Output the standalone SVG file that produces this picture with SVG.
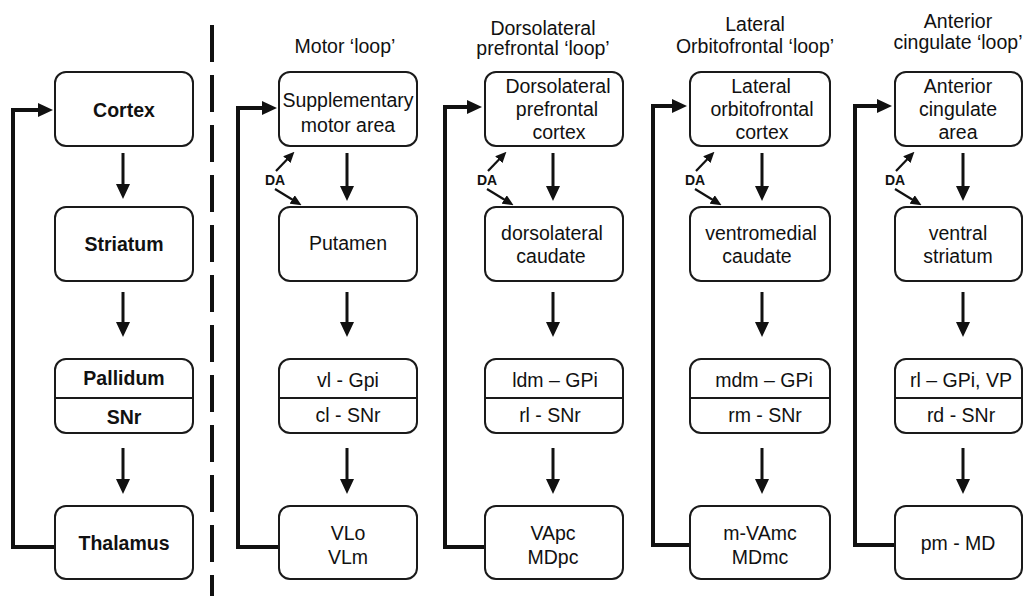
<svg xmlns="http://www.w3.org/2000/svg" width="1024" height="596" viewBox="0 0 1024 596">
<style>
.bx{fill:#fff;stroke:#1a1a1a;stroke-width:2}
.dv{stroke:#1a1a1a;stroke-width:2}
.t{font-family:"Liberation Sans",Arial,sans-serif;font-size:19.5px;text-anchor:middle;fill:#111}
.b{font-weight:bold}
.da{font-family:"Liberation Sans",Arial,sans-serif;font-size:14px;font-weight:bold;text-anchor:middle;fill:#111}
.ar{stroke:#111;stroke-width:3;fill:none;marker-end:url(#ah)}
.fba{stroke:#111;stroke-width:4;fill:none;marker-end:url(#ah)}
.dl{stroke:#111;stroke-width:2.2;fill:none;marker-end:url(#sh)}
</style>
<defs>
<marker id="ah" markerUnits="userSpaceOnUse" markerWidth="15" markerHeight="14" refX="2" refY="7" orient="auto" viewBox="0 0 15 14">
<path d="M0,0 L15,7 L0,14 z" fill="#111"/>
</marker>
<marker id="sh" markerUnits="userSpaceOnUse" markerWidth="11" markerHeight="10" refX="1" refY="5" orient="auto" viewBox="0 0 11 10">
<path d="M0,0 L11,5 L0,10 z" fill="#111"/>
</marker>
</defs>
<rect width="1024" height="596" fill="#fff"/>

<line x1="212" y1="25" x2="212" y2="596" stroke="#111" stroke-width="4" stroke-dasharray="37 13"/>

<g id="titles">
<text class="t" x="345" y="53">Motor &#8216;loop&#8217;</text>
<text class="t" x="543" y="35">Dorsolateral</text>
<text class="t" x="543" y="55">prefrontal &#8216;loop&#8217;</text>
<text class="t" x="755" y="31">Lateral</text>
<text class="t" x="755" y="53">Orbitofrontal &#8216;loop&#8217;</text>
<text class="t" x="958" y="28">Anterior</text>
<text class="t" x="958" y="49">cingulate &#8216;loop&#8217;</text>
</g>

<g id="connectors">
<line class="ar" x1="123" y1="153" x2="123" y2="186"/>
<line class="ar" x1="123" y1="292" x2="123" y2="324"/>
<line class="ar" x1="123" y1="448" x2="123" y2="481"/>
<line class="ar" x1="347" y1="153" x2="347" y2="188"/>
<line class="ar" x1="347" y1="292" x2="347" y2="324"/>
<line class="ar" x1="347" y1="448" x2="347" y2="481"/>
<line class="ar" x1="553" y1="153" x2="553" y2="188"/>
<line class="ar" x1="553" y1="292" x2="553" y2="324"/>
<line class="ar" x1="553" y1="448" x2="553" y2="481"/>
<line class="ar" x1="762" y1="153" x2="762" y2="188"/>
<line class="ar" x1="762" y1="292" x2="762" y2="324"/>
<line class="ar" x1="762" y1="448" x2="762" y2="481"/>
<line class="ar" x1="963" y1="153" x2="963" y2="188"/>
<line class="ar" x1="963" y1="292" x2="963" y2="324"/>
<line class="ar" x1="963" y1="448" x2="963" y2="481"/>
<polyline class="fba" points="55,547 13,547 13,110 40,110"/>
<polyline class="fba" points="279,547 238,547 238,108 264,108"/>
<polyline class="fba" points="485,547 445,547 445,107 469,107"/>
<polyline class="fba" points="690,545 653,545 653,106 674,106"/>
<polyline class="fba" points="895,545 855,545 855,106 879,106"/>
<g transform="translate(275,0)">
<line class="dl" x1="1" y1="171" x2="12.5" y2="159"/>
<line class="dl" x1="0" y1="189" x2="18" y2="200"/>
</g>
<g transform="translate(487,0)">
<line class="dl" x1="1" y1="171" x2="12.5" y2="159"/>
<line class="dl" x1="0" y1="189" x2="18" y2="200"/>
</g>
<g transform="translate(695,0)">
<line class="dl" x1="1" y1="171" x2="12.5" y2="159"/>
<line class="dl" x1="0" y1="189" x2="18" y2="200"/>
</g>
<g transform="translate(895,0)">
<line class="dl" x1="1" y1="171" x2="12.5" y2="159"/>
<line class="dl" x1="0" y1="189" x2="18" y2="200"/>
</g>
<text class="da" x="275" y="185">DA</text>
<text class="da" x="487" y="185">DA</text>
<text class="da" x="695" y="185">DA</text>
<text class="da" x="895" y="185">DA</text>
</g>

<g id="cortex"><rect class="bx" x="55" y="72" width="138" height="74" rx="11"/><text class="t b" x="124" y="117">Cortex</text></g>
<g id="striatum"><rect class="bx" x="55" y="207" width="138" height="74" rx="11"/><text class="t b" x="124" y="251">Striatum</text></g>
<g id="pallidum"><rect class="bx" x="55" y="359" width="138" height="74" rx="11"/><line class="dv" x1="55" y1="398" x2="193" y2="398"/><text class="t b" x="124" y="385">Pallidum</text><text class="t b" x="124" y="424">SNr</text></g>
<g id="thalamus"><rect class="bx" x="55" y="506" width="138" height="73" rx="11"/><text class="t b" x="124" y="550">Thalamus</text></g>

<g id="sma"><rect class="bx" x="279" y="72" width="138" height="74" rx="11"/><text class="t" x="348" y="107">Supplementary</text><text class="t" x="348" y="132">motor area</text></g>
<g id="putamen"><rect class="bx" x="279" y="207" width="138" height="74" rx="11"/><text class="t" x="348" y="250">Putamen</text></g>
<g id="vl-gpi"><rect class="bx" x="279" y="359" width="138" height="74" rx="11"/><line class="dv" x1="279" y1="398" x2="417" y2="398"/><text class="t" x="348" y="387">vl - Gpi</text><text class="t" x="348" y="422">cl - SNr</text></g>
<g id="vlo"><rect class="bx" x="279" y="506" width="138" height="73" rx="11"/><text class="t" x="348" y="540">VLo</text><text class="t" x="348" y="564">VLm</text></g>

<g id="dlpfc"><rect class="bx" x="485" y="72" width="138" height="74" rx="11"/><text class="t" x="558" y="93">Dorsolateral</text><text class="t" x="557" y="116">prefrontal</text><text class="t" x="559" y="139">cortex</text></g>
<g id="dlcaud"><rect class="bx" x="485" y="207" width="138" height="74" rx="11"/><text class="t" x="552" y="240">dorsolateral</text><text class="t" x="551" y="263">caudate</text></g>
<g id="ldm-gpi"><rect class="bx" x="485" y="359" width="138" height="74" rx="11"/><line class="dv" x1="485" y1="398" x2="623" y2="398"/><text class="t" x="555" y="387">ldm &#8211; GPi</text><text class="t" x="550" y="422">rl - SNr</text></g>
<g id="vapc"><rect class="bx" x="485" y="506" width="138" height="73" rx="11"/><text class="t" x="553" y="540">VApc</text><text class="t" x="553" y="564">MDpc</text></g>

<g id="lofc"><rect class="bx" x="690" y="72" width="140" height="74" rx="11"/><text class="t" x="761" y="93">Lateral</text><text class="t" x="762" y="116">orbitofrontal</text><text class="t" x="762" y="139">cortex</text></g>
<g id="vmcaud"><rect class="bx" x="690" y="207" width="140" height="74" rx="11"/><text class="t" x="761" y="240">ventromedial</text><text class="t" x="757" y="263">caudate</text></g>
<g id="mdm-gpi"><rect class="bx" x="690" y="359" width="140" height="74" rx="11"/><line class="dv" x1="690" y1="398" x2="830" y2="398"/><text class="t" x="764" y="387">mdm &#8211; GPi</text><text class="t" x="765" y="422">rm - SNr</text></g>
<g id="vamc"><rect class="bx" x="690" y="506" width="140" height="73" rx="11"/><text class="t" x="760" y="540">m-VAmc</text><text class="t" x="760" y="564">MDmc</text></g>

<g id="aca"><rect class="bx" x="895" y="72" width="127" height="74" rx="11"/><text class="t" x="958" y="93">Anterior</text><text class="t" x="958" y="116">cingulate</text><text class="t" x="958" y="139">area</text></g>
<g id="vstr"><rect class="bx" x="895" y="207" width="127" height="74" rx="11"/><text class="t" x="958" y="240">ventral</text><text class="t" x="958" y="263">striatum</text></g>
<g id="rl-gpi"><rect class="bx" x="895" y="359" width="127" height="74" rx="11"/><line class="dv" x1="895" y1="398" x2="1022" y2="398"/><text class="t" x="961" y="387">rl &#8211; GPi, VP</text><text class="t" x="961" y="422">rd - SNr</text></g>
<g id="pm-md"><rect class="bx" x="895" y="506" width="127" height="73" rx="11"/><text class="t" x="958" y="550">pm - MD</text></g>
</svg>
